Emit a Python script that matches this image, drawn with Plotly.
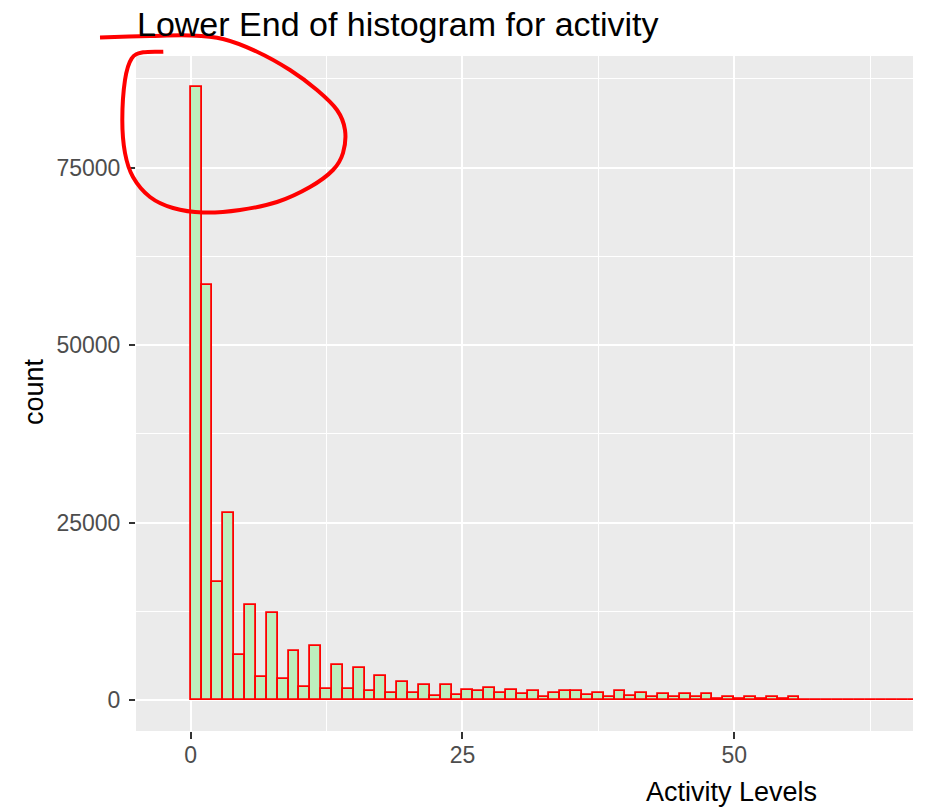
import plotly.graph_objects as go

# ---------------- data ----------------
bin_starts = list(range(0, 69))
counts = [
    86300, 58450, 16700, 26300, 6430, 13480, 3240, 12350, 2960, 7000,
    1830, 7700, 1550, 5020, 1550, 4500, 1315, 3430, 1080, 2630,
    1080, 2110, 610, 2110, 750, 1500, 1270, 1780, 1080, 1500,
    845, 1270, 516, 1080, 1310, 1310, 700, 1030, 470, 1310,
    610, 1030, 470, 845, 470, 845, 470, 845, 140, 516,
    140, 516, 140, 516, 140, 516, 90, 70, 90, 60,
    80, 50, 70, 50, 60, 40, 50, 40, 40,
]
x_ticks = [0, 25, 50]
y_ticks = [0, 25000, 50000, 75000]
title_text = "Lower End of histogram for activity"
x_title = "Activity Levels"
y_title = "count"

# ---------------- figure geometry ----------------
W, H = 925, 809
L, R, T, B = 136, 12, 56, 78
PW, PH = W - L - R, H - T - B

def px(x):
    return (x - L) / PW

def py(y):
    return (H - B - y) / PH

FONT = "Arial, 'Liberation Sans', sans-serif"

fig = go.Figure()
fig.add_trace(go.Bar(
    x=[s + 0.5 for s in bin_starts],
    y=counts,
    width=[1.0] * len(bin_starts),
    marker=dict(color="#BDEEBD", line=dict(color="#FF0000", width=1.8)),
    hoverinfo="x+y",
))

# hand-drawn red highlight stroke (decoration)
stroke_px = [
    (100, 37.5), (150, 36), (190, 35.5), (223, 39), (257, 51.7), (290, 70),
    (317, 90), (337, 110), (345, 130), (343, 153), (333, 170), (310, 187),
    (277, 202), (240, 210), (203, 212.5), (173, 208), (150, 197), (133, 177),
    (125, 153), (122.3, 120), (125, 80), (131.7, 58.3), (143.3, 52.3), (163.3, 51.7),
]
pts = [(px(a), py(b)) for a, b in stroke_px]
path = "M %.5f,%.5f" % pts[0]
n = len(pts)
for i in range(n - 1):
    p0 = pts[i - 1] if i > 0 else pts[i]
    p1 = pts[i]
    p2 = pts[i + 1]
    p3 = pts[i + 2] if i + 2 < n else pts[i + 1]
    c1 = (p1[0] + (p2[0] - p0[0]) / 6, p1[1] + (p2[1] - p0[1]) / 6)
    c2 = (p2[0] - (p3[0] - p1[0]) / 6, p2[1] - (p3[1] - p1[1]) / 6)
    path += " C %.5f,%.5f %.5f,%.5f %.5f,%.5f" % (c1 + c2 + p2)

fig.add_shape(type="path", path=path, xref="paper", yref="paper",
              line=dict(color="#FF0000", width=4), layer="above")

fig.update_layout(
    width=W, height=H,
    margin=dict(l=L, r=R, t=T, b=B, pad=0),
    paper_bgcolor="white",
    plot_bgcolor="#EBEBEB",
    bargap=0,
    showlegend=False,
    font=dict(family=FONT, color="#4D4D4D"),
    title=dict(text=title_text, x=px(137), xanchor="left", xref="paper",
               y=1 - 24 / H, yanchor="middle", yref="container",
               font=dict(size=34, color="black", family=FONT)),
    xaxis=dict(
        range=[-5.03, 66.45], tickvals=x_ticks, ticktext=[str(v) for v in x_ticks],
        showgrid=True, gridcolor="white", gridwidth=2, zeroline=False,
        ticks="outside", ticklen=7, tickwidth=1.5, tickcolor="#333333",
        tickfont=dict(size=23, color="#4D4D4D"), ticklabelstandoff=-4,
        minor=dict(showgrid=True, gridcolor="white", gridwidth=1, dtick=12.5, tick0=0),
        showline=False, fixedrange=True,
    ),
    yaxis=dict(
        range=[-4330, 90700], tickvals=y_ticks, ticktext=[str(v) for v in y_ticks],
        showgrid=True, gridcolor="white", gridwidth=2, zeroline=False,
        ticks="outside", ticklen=6, tickwidth=1.5, tickcolor="#333333",
        tickfont=dict(size=23, color="#4D4D4D"), ticklabelstandoff=4,
        minor=dict(showgrid=True, gridcolor="white", gridwidth=1, dtick=12500, tick0=0),
        showline=False, fixedrange=True,
    ),
    annotations=[
        dict(text=x_title, x=px(731.5), y=py(792), xref="paper", yref="paper",
             xanchor="center", yanchor="middle", showarrow=False,
             font=dict(size=27, color="black", family=FONT)),
        dict(text=y_title, x=px(34), y=py(392), xref="paper", yref="paper",
             xanchor="center", yanchor="middle", showarrow=False, textangle=-90,
             font=dict(size=27, color="black", family=FONT)),
    ],
)

fig.write_html("out.html", config={"displayModeBar": False},
               post_script="document.body.style.margin='0';document.body.style.overflow='hidden';")
